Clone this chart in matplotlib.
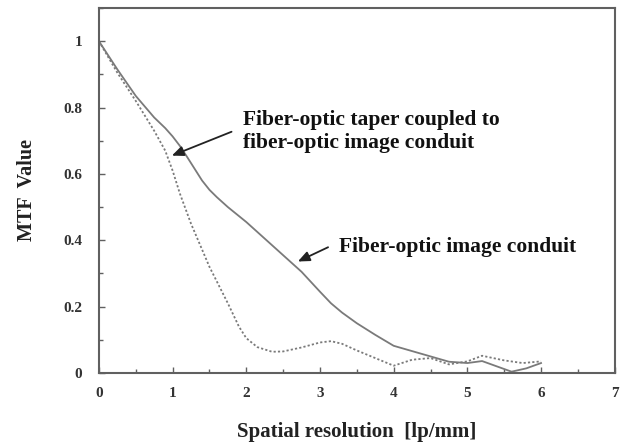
import matplotlib
matplotlib.use("Agg")
import matplotlib.pyplot as plt
from matplotlib.ticker import MultipleLocator

# Data
x_conduit = [0, 0.25, 0.5, 0.75, 0.9, 1.0, 1.1, 1.2, 1.3, 1.4, 1.5, 1.6, 1.75, 2.0, 2.25, 2.5,
             2.75, 3.0, 3.15, 3.3, 3.5, 3.75, 4.0, 4.25, 4.5, 4.75, 5.0, 5.2, 5.4, 5.6, 5.8, 6.0]
y_conduit = [1.0, 0.915, 0.835, 0.77, 0.738, 0.713, 0.684, 0.65, 0.615, 0.58, 0.552, 0.53,
             0.5, 0.455, 0.405, 0.355, 0.305, 0.245, 0.21, 0.182, 0.15, 0.115, 0.082, 0.066,
             0.05, 0.034, 0.03, 0.036, 0.02, 0.004, 0.014, 0.03]

x_taper = [0, 0.25, 0.5, 0.75, 0.9, 1.0, 1.1, 1.25, 1.5, 1.75, 1.9, 2.0, 2.15, 2.35, 2.5, 2.75,
           3.0, 3.15, 3.3, 3.5, 3.75, 4.0, 4.25, 4.5, 4.75, 5.0, 5.2, 5.5, 5.75, 6.0]
y_taper = [1.0, 0.905, 0.82, 0.73, 0.67, 0.61, 0.54, 0.45, 0.32, 0.21, 0.14, 0.105, 0.078,
           0.064, 0.065, 0.077, 0.092, 0.096, 0.088, 0.068, 0.045, 0.022, 0.04, 0.045, 0.026,
           0.035, 0.052, 0.038, 0.03, 0.035]

xticks = [0, 1, 2, 3, 4, 5, 6, 7]
yticks = [0, 0.2, 0.4, 0.6, 0.8, 1]
ytick_labels = ["0", "0.2", "0.4", "0.6", "0.8", "1"]

serif = ["Liberation Serif", "DejaVu Serif"]
fig = plt.figure(figsize=(6.26, 4.43), dpi=100)
ax = fig.add_axes([0.158, 0.158, 0.824, 0.824])

line_col = "#7a7a7a"
ax.plot(x_conduit, y_conduit, color=line_col, lw=1.3, ls="-")
ax.plot(x_taper, y_taper, color=line_col, lw=1.3, ls=(0, (1.2, 1.2)))

ax.set_xlim(0, 7)
ax.set_ylim(0, 1.1)
ax.set_xticks(xticks)
ax.set_xticklabels([str(t) for t in xticks])
ax.set_yticks(yticks)
ax.set_yticklabels(ytick_labels)
ax.xaxis.set_minor_locator(MultipleLocator(0.5))
ax.yaxis.set_minor_locator(MultipleLocator(0.1))

spine_col = "#606060"
for s in ax.spines.values():
    s.set_color(spine_col)
    s.set_linewidth(1.5)

ax.tick_params(which="both", direction="in", color=spine_col, top=False, right=False)
ax.tick_params(which="major", length=4, width=1)
ax.tick_params(axis="y", which="major", pad=12)
ax.tick_params(axis="x", which="major", pad=10)
ax.tick_params(which="minor", length=3, width=1)
for lab in ax.get_xticklabels() + ax.get_yticklabels():
    lab.set_fontfamily(serif)
    lab.set_fontweight("bold")
    lab.set_fontsize(11)
    lab.set_color("#333333")

ax.set_xlabel("Spatial resolution  [lp/mm]", fontsize=15, fontweight="bold",
              family=serif, color="#222222", labelpad=16)
ax.set_ylabel("MTF  Value", fontsize=14.5, fontweight="bold", family=serif,
              color="#222222", labelpad=19)

# Annotations
ax.text(1.95, 0.728, "Fiber-optic taper coupled to\nfiber-optic image conduit",
        fontsize=15.5, fontweight="bold", family=serif, color="#111111",
        ha="left", va="center", linespacing=1.15)
ax.annotate("", xy=(0.99, 0.655), xytext=(1.80, 0.727),
            arrowprops=dict(arrowstyle="-|>,head_length=0.7,head_width=0.3",
                            color="#222222", lw=1.3, shrinkA=0, shrinkB=0))

ax.text(3.26, 0.379, "Fiber-optic image conduit",
        fontsize=15.5, fontweight="bold", family=serif, color="#111111",
        ha="left", va="center")
ax.annotate("", xy=(2.70, 0.336), xytext=(3.11, 0.379),
            arrowprops=dict(arrowstyle="-|>,head_length=0.7,head_width=0.3",
                            color="#222222", lw=1.3, shrinkA=0, shrinkB=0))

fig.savefig("out.png", dpi=100, facecolor="white")
